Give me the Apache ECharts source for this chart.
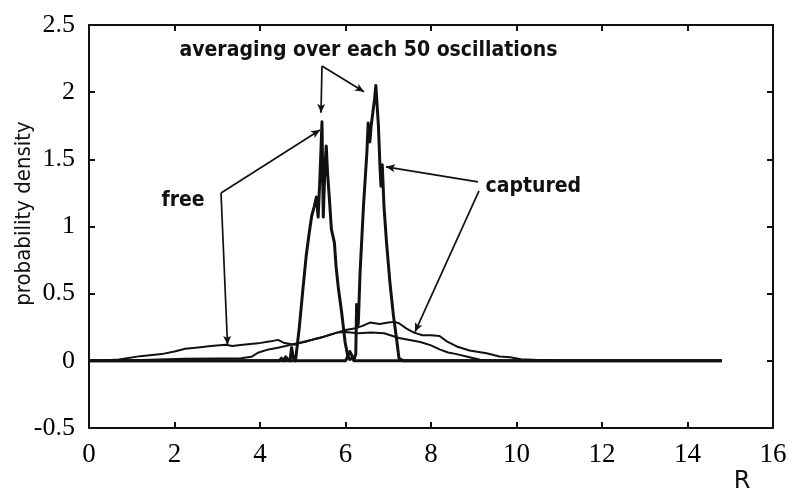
<!DOCTYPE html>
<html>
<head>
<meta charset="utf-8">
<script src="https://cdn.jsdelivr.net/npm/echarts@6/dist/echarts.min.js"></script>
<style>
  html, body { margin: 0; padding: 0; background: #fff; }
  #chart { width: 792px; height: 493px; }
</style>
</head>
<body>
<div id="chart"></div>
<script>
// Radial probability density P(R): sharp peaks are the 50-oscillation averages,
// broad curves are the free and captured distributions.
const freePeakR = [0, 4.45, 4.5, 4.55, 4.6, 4.65, 4.7, 4.74, 4.78, 4.83, 4.92, 5.0, 5.08, 5.15, 5.21, 5.27, 5.32, 5.36, 5.4, 5.45, 5.48, 5.52, 5.55, 5.58, 5.62, 5.67, 5.74, 5.78, 5.83, 5.91, 5.99, 6.05, 6.1, 6.15, 6.2, 14.8];
const freePeakP = [0, 0, 0.02, 0, 0.03, 0.01, 0, 0.1, 0.02, 0, 0.25, 0.52, 0.78, 0.95, 1.08, 1.15, 1.22, 1.07, 1.35, 1.78, 1.07, 1.45, 1.6, 1.4, 1.22, 0.98, 0.88, 0.7, 0.55, 0.36, 0.14, 0.04, 0.01, 0.02, 0, 0];

const capturedPeakR = [0, 6.0, 6.05, 6.1, 6.15, 6.2, 6.24, 6.26, 6.28, 6.3, 6.34, 6.38, 6.42, 6.46, 6.5, 6.53, 6.57, 6.6, 6.64, 6.68, 6.71, 6.74, 6.77, 6.81, 6.83, 6.86, 6.9, 6.96, 7.04, 7.12, 7.2, 7.25, 7.3, 7.35, 14.8];
const capturedPeakP = [0, 0, 0.03, 0.07, 0.04, 0.01, 0.05, 0.42, 0.25, 0.28, 0.65, 0.9, 1.15, 1.35, 1.55, 1.77, 1.63, 1.75, 1.85, 1.95, 2.05, 1.9, 1.75, 1.42, 1.3, 1.46, 1.15, 0.88, 0.58, 0.34, 0.15, 0.02, 0.01, 0, 0];

const freeBroadR = [0, 0.2, 0.7, 1.2, 1.7, 2.0, 2.25, 2.55, 2.85, 3.2, 3.35, 3.6, 3.95, 4.25, 4.42, 4.55, 4.8, 5.0, 5.2, 5.4, 5.6, 5.8, 6.0, 6.3, 6.6, 6.9, 7.05, 7.25, 7.5, 7.75, 8.0, 8.2, 8.4, 8.6, 8.9, 9.15, 9.5, 9.8, 14.8];
const freeBroadP = [0, 0, 0.01, 0.035, 0.05, 0.07, 0.09, 0.1, 0.11, 0.12, 0.11, 0.12, 0.13, 0.145, 0.156, 0.135, 0.12, 0.14, 0.155, 0.17, 0.19, 0.21, 0.215, 0.205, 0.21, 0.205, 0.19, 0.17, 0.155, 0.14, 0.115, 0.085, 0.062, 0.05, 0.027, 0.008, 0.003, 0, 0];

const capturedBroadR = [0, 1.0, 2.25, 3.0, 3.55, 3.8, 3.95, 4.2, 4.45, 4.6, 4.85, 5.05, 5.25, 5.5, 5.8, 6.0, 6.2, 6.4, 6.57, 6.8, 7.0, 7.15, 7.25, 7.43, 7.6, 7.8, 8.0, 8.2, 8.37, 8.6, 8.9, 9.3, 9.6, 9.85, 10.1, 10.5, 10.9, 11.2, 14.8];
const capturedBroadP = [0, 0.005, 0.015, 0.017, 0.02, 0.03, 0.06, 0.085, 0.1, 0.11, 0.13, 0.14, 0.16, 0.18, 0.21, 0.23, 0.24, 0.26, 0.285, 0.275, 0.285, 0.29, 0.28, 0.24, 0.21, 0.19, 0.19, 0.185, 0.145, 0.107, 0.077, 0.057, 0.032, 0.027, 0.012, 0.007, 0.003, 0, 0];

// Axis ranges
const rRange = [0, 16, 2];
const pRange = [-0.5, 2.5, 0.5];

// Callout texts with their anchor (R, P)
const calloutText = ['averaging over each 50 oscillations', 'free', 'captured'];
const calloutAt = [[2.105, 2.31], [1.684, 1.19], [9.263, 1.295]];

// Leader arrows: [from (R, P), to (R, P)]
const arrowFrom = [[5.45, 2.195], [5.45, 2.195], [3.088, 1.25], [3.088, 1.25], [9.099, 1.332], [9.123, 1.265]];
const arrowTo   = [[5.427, 1.846], [6.433, 2.003], [5.404, 1.719], [3.24, 0.119], [6.947, 1.444], [7.626, 0.216]];

const INK = '#111';
const SERIF = '"Liberation Serif", "Times New Roman", serif';
const SANS = '"DejaVu Sans Condensed", "DejaVu Sans", sans-serif';

const pairs = (xs, ys) => xs.map((x, i) => [x, ys[i]]);

function axisBase(extra) {
  return Object.assign({
    type: 'value',
    axisLine: { show: true, onZero: false, lineStyle: { color: INK, width: 2 } },
    axisTick: { show: true, inside: true, length: 6, lineStyle: { color: INK, width: 2 } },
    splitLine: { show: false },
    minorTick: { show: false }
  }, extra);
}

const chart = echarts.init(document.getElementById('chart'), null, { renderer: 'canvas' });

const lineSeries = (name, xs, ys, width) => ({
  name,
  type: 'line',
  data: pairs(xs, ys),
  showSymbol: false,
  symbol: 'none',
  smooth: false,
  silent: true,
  lineStyle: { color: INK, width: width, join: 'round' },
  z: 3
});

const annotations = {
  type: 'line',
  data: [],
  silent: true,
  markLine: {
    silent: true,
    symbol: ['none', 'arrow'],
    symbolSize: [6, 9],
    label: { show: false },
    lineStyle: { color: INK, width: 1.7, type: 'solid' },
    emphasis: { disabled: true },
    data: arrowFrom.map((f, i) => [{ coord: f }, { coord: arrowTo[i] }])
  },
  markPoint: {
    silent: true,
    symbol: 'rect',
    symbolSize: 1,
    itemStyle: { color: 'transparent' },
    label: {
      show: true,
      position: 'right',
      distance: 0,
      color: INK,
      fontFamily: SANS,
      fontWeight: 'bold',
      fontSize: 21
    },
    data: calloutText.map((t, i) => ({ coord: calloutAt[i], label: { formatter: t } }))
  }
};

chart.setOption({
  animation: false,
  backgroundColor: '#fff',
  grid: { left: 89, right: 19, top: 25, bottom: 65, containLabel: false, outerBoundsMode: 'none' },
  xAxis: [
    axisBase({
      position: 'bottom',
      min: rRange[0], max: rRange[1], interval: rRange[2],
      name: 'R',
      nameLocation: 'end',
      nameGap: -31,
      nameMoveOverlap: false,
      nameTextStyle: { fontFamily: '"DejaVu Sans", sans-serif', fontSize: 24, color: INK, align: 'center', verticalAlign: 'top', padding: [42, 0, 0, 0] },
      axisLabel: { fontFamily: SERIF, fontSize: 27, color: '#000', margin: 13 }
    }),
    axisBase({
      position: 'top',
      min: rRange[0], max: rRange[1], interval: rRange[2],
      axisLabel: { show: false }
    })
  ],
  yAxis: [
    axisBase({
      position: 'left',
      min: pRange[0], max: pRange[1], interval: pRange[2],
      name: 'probability density',
      nameLocation: 'middle',
      nameGap: 54,
      nameMoveOverlap: false,
      nameTextStyle: { fontFamily: SANS, fontSize: 22, color: INK, padding: [0, 0, 0, 26] },
      axisLabel: { fontFamily: SERIF, fontSize: 26, color: '#000', margin: 14 }
    }),
    axisBase({
      position: 'right',
      min: pRange[0], max: pRange[1], interval: pRange[2],
      axisLabel: { show: false }
    })
  ],
  series: [
    lineSeries('free, broad', freeBroadR, freeBroadP, 2),
    lineSeries('captured, broad', capturedBroadR, capturedBroadP, 2),
    lineSeries('free, averaged', freePeakR, freePeakP, 3),
    lineSeries('captured, averaged', capturedPeakR, capturedPeakP, 3),
    annotations
  ]
});
</script>
</body>
</html>
